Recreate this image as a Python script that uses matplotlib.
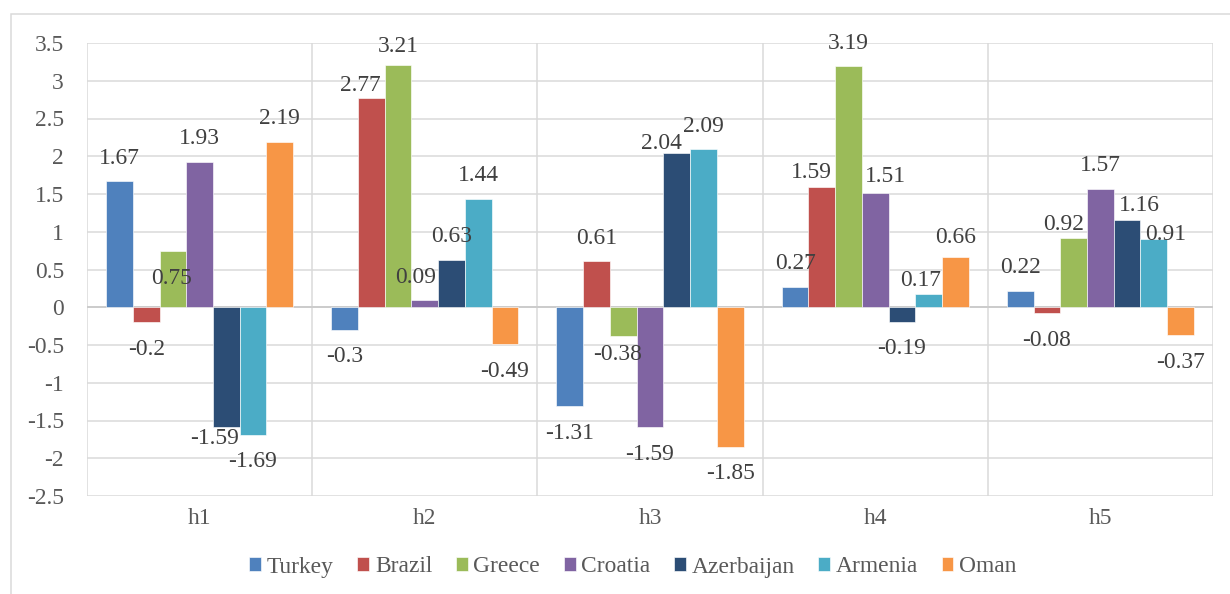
import matplotlib
matplotlib.use('Agg')
import matplotlib.pyplot as plt
import numpy as np
from matplotlib.patches import Rectangle

plt.rcParams['font.family'] = ['Liberation Serif', 'DejaVu Serif']

categories = ['h1', 'h2', 'h3', 'h4', 'h5']
countries = ['Turkey', 'Brazil', 'Greece', 'Croatia', 'Azerbaijan', 'Armenia', 'Oman']
turkey = [1.67, -0.30, -1.31, 0.27, 0.22]
brazil = [-0.20, 2.77, 0.61, 1.59, -0.08]
greece = [0.75, 3.21, -0.38, 3.19, 0.92]
croatia = [1.93, 0.09, -1.59, 1.51, 1.57]
azerbaijan = [-1.59, 0.63, 2.04, -0.19, 1.16]
armenia = [-1.69, 1.44, 2.09, 0.17, 0.91]
oman = [2.19, -0.49, -1.85, 0.66, -0.37]
series = [turkey, brazil, greece, croatia, azerbaijan, armenia, oman]
colors = ['#4F81BD', '#C0504D', '#9BBB59', '#8064A2', '#2C4D75', '#4BACC6', '#F79646']

# label nudges in pixels (dx, dy up), Excel moved some labels to avoid overlap
nudges = {
    ('Greece', 0): (-1, -51), ('Azerbaijan', 0): (-12, 16),
    ('Brazil', 1): (-11, -10), ('Greece', 1): (0, -5), ('Croatia', 1): (-9, 0),
    ('Greece', 2): (-6, 8), ('Azerbaijan', 2): (-15, -13),
    ('Brazil', 3): (-10, -8), ('Croatia', 3): (10, -6), ('Armenia', 3): (-8, -9),
    ('Oman', 3): (0, -3),
    ('Greece', 4): (-10, -10), ('Azerbaijan', 4): (12, -9), ('Armenia', 4): (12, -19),
}

W, H = 1230, 594
fs = 23.5
fig = plt.figure(figsize=(W / 72, H / 72), dpi=72)
ax = fig.add_axes([87 / W, (H - 496) / H, (1213 - 87) / W, (496 - 43) / H])

# outer chart border
fig.patches.append(Rectangle((11 / W, -0.1), 1.2, (H - 14) / H + 0.1, transform=fig.transFigure,
                             fill=False, edgecolor='#D9D9D9', linewidth=1.5))

x = np.arange(len(categories))
w = 26.7 / 225
grid_c = '#D9D9D9'
for v in np.arange(-2.5, 3.51, 0.5):
    ax.axhline(v, color=grid_c, lw=1.5, zorder=0)
for v in np.arange(-0.5, 4.6, 1.0):
    ax.axvline(v, color=grid_c, lw=1.5, zorder=0)
ax.axhline(0, color='#CCCCCC', lw=2, zorder=1)

for j, (name, vals, c) in enumerate(zip(countries, series, colors)):
    pos = x + (j - 3) * w
    ax.bar(pos, vals, w, color=c, edgecolor='white', linewidth=0.6, label=name, zorder=2)
    for i, v in enumerate(vals):
        dx, dy = nudges.get((name, i), (0, 0))
        off = 23 if v >= 0 else -27
        ax.annotate(f'{v:g}', (pos[i], v), xytext=(dx, off + dy), textcoords='offset points',
                    ha='center', va='center', fontsize=fs, color='#404040', zorder=3)

ax.set_xlim(-0.5, 4.5)
ax.set_ylim(-2.5, 3.5)
ax.set_yticks(np.arange(-2.5, 3.51, 0.5))
ax.set_yticklabels([f'{t:g}' for t in np.arange(-2.5, 3.51, 0.5)])
ax.set_xticks(x)
ax.set_xticklabels(categories)
ax.tick_params(axis='y', length=0, pad=23, labelsize=fs, labelcolor='#595959')
ax.tick_params(axis='x', length=0, pad=12, labelsize=fs, labelcolor='#595959')
for s in ax.spines.values():
    s.set_visible(False)

fig.legend(loc='center', bbox_to_anchor=(633 / W, 1 - 567 / H), ncol=7, frameon=False,
           fontsize=23.5, handlelength=0.5, handleheight=0.5, handletextpad=0.25,
           columnspacing=1.0, labelcolor='#595959')

fig.savefig('out.png', dpi=72)
